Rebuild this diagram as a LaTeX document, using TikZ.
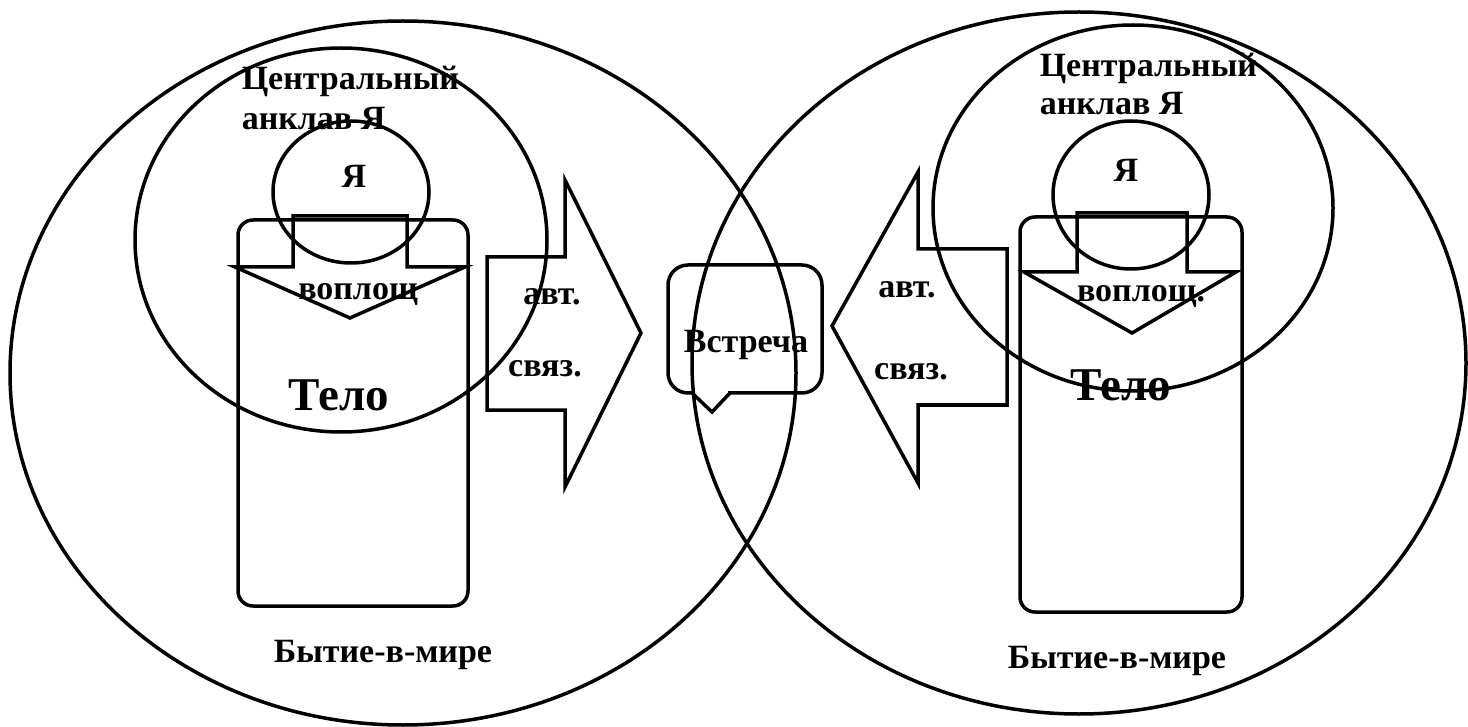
\documentclass[tikz,border=0pt]{standalone}
\usepackage{fontspec}
\setmainfont{Liberation Serif}[BoldFont={Liberation Serif Bold}]

\begin{document}
\begin{tikzpicture}[x=1pt,y=-1pt,line width=3.5pt,line join=miter,
		lbl/.style={font=\bfseries\fontsize{34}{40}\selectfont,inner sep=0pt,anchor=base},
		lblw/.style={lbl,anchor=base west},
		big/.style={font=\bfseries\fontsize{47}{52}\selectfont,inner sep=0pt,anchor=base}]
		\useasboundingbox (0,0) rectangle (1468,727);

		% meeting box with its tail
		\draw[rounded corners=20pt] (668,265) rectangle (822,393);
		\fill[white] (694,390) rectangle (728,396);
		\draw (692,393) -- (712,412) -- (730,393);
		\node[lbl] (meet) at (746,353) {Встреча};

		% left person
		\draw (403,373) ellipse [x radius=393, y radius=352];
		\draw (341,240) ellipse [x radius=206, y radius=192];
		\draw (351,192) ellipse [x radius=78, y radius=71];
		\draw[rounded corners=15pt] (238,220) rectangle (468,606);
		\draw (293,216) -- (407,216) -- (407,267) -- (465,267) -- (350,318) -- (235,267) -- (293,267) -- cycle;
		\draw (487,257) -- (565,257) -- (565,180) -- (641,333) -- (565,487) -- (565,410) -- (487,410) -- cycle;
		\node[lblw] (enclaveL) at (240,90) {Центральный};
		\node[lblw] (enclaveLb) at (240,130) {анклав Я};
		\node[lbl] (selfL) at (354,188) {Я};
		\node[lbl] (embodyL) at (358,300) {воплощ};
		\node[big] (bodyL) at (339,410) {Тело};
		\node[lbl] (autoL) at (552,305) {авт.};
		\node[lbl] (linkL) at (545,377) {связ.};
		\node[lbl] (worldL) at (383,662) {Бытие-в-мире};

		% right person
		\draw (1079,363) ellipse [x radius=387, y radius=351];
		\draw (1133,208) ellipse [x radius=200, y radius=183];
		\draw (1131,195) ellipse [x radius=78, y radius=74];
		\draw[rounded corners=15pt] (1020,217) rectangle (1242,612);
		\draw (1077,213) -- (1187,213) -- (1187,272) -- (1236,272) -- (1132,333) -- (1024,272) -- (1077,272) -- cycle;
		\draw (1007,249) -- (918,249) -- (918,172) -- (832,326) -- (918,483) -- (918,405) -- (1007,405) -- cycle;
		\node[lblw] (enclaveR) at (1038,77) {Центральный};
		\node[lblw] (enclaveRb) at (1038,115) {анклав Я};
		\node[lbl] (selfR) at (1126,182) {Я};
		\node[lbl] (embodyR) at (1141,302) {воплощ.};
		\node[big] (bodyR) at (1121,400) {Тело};
		\node[lbl] (autoR) at (907,298) {авт.};
		\node[lbl] (linkR) at (911,380) {связ.};
		\node[lbl] (worldR) at (1117,668) {Бытие-в-мире};

	\end{tikzpicture}
\end{document}
